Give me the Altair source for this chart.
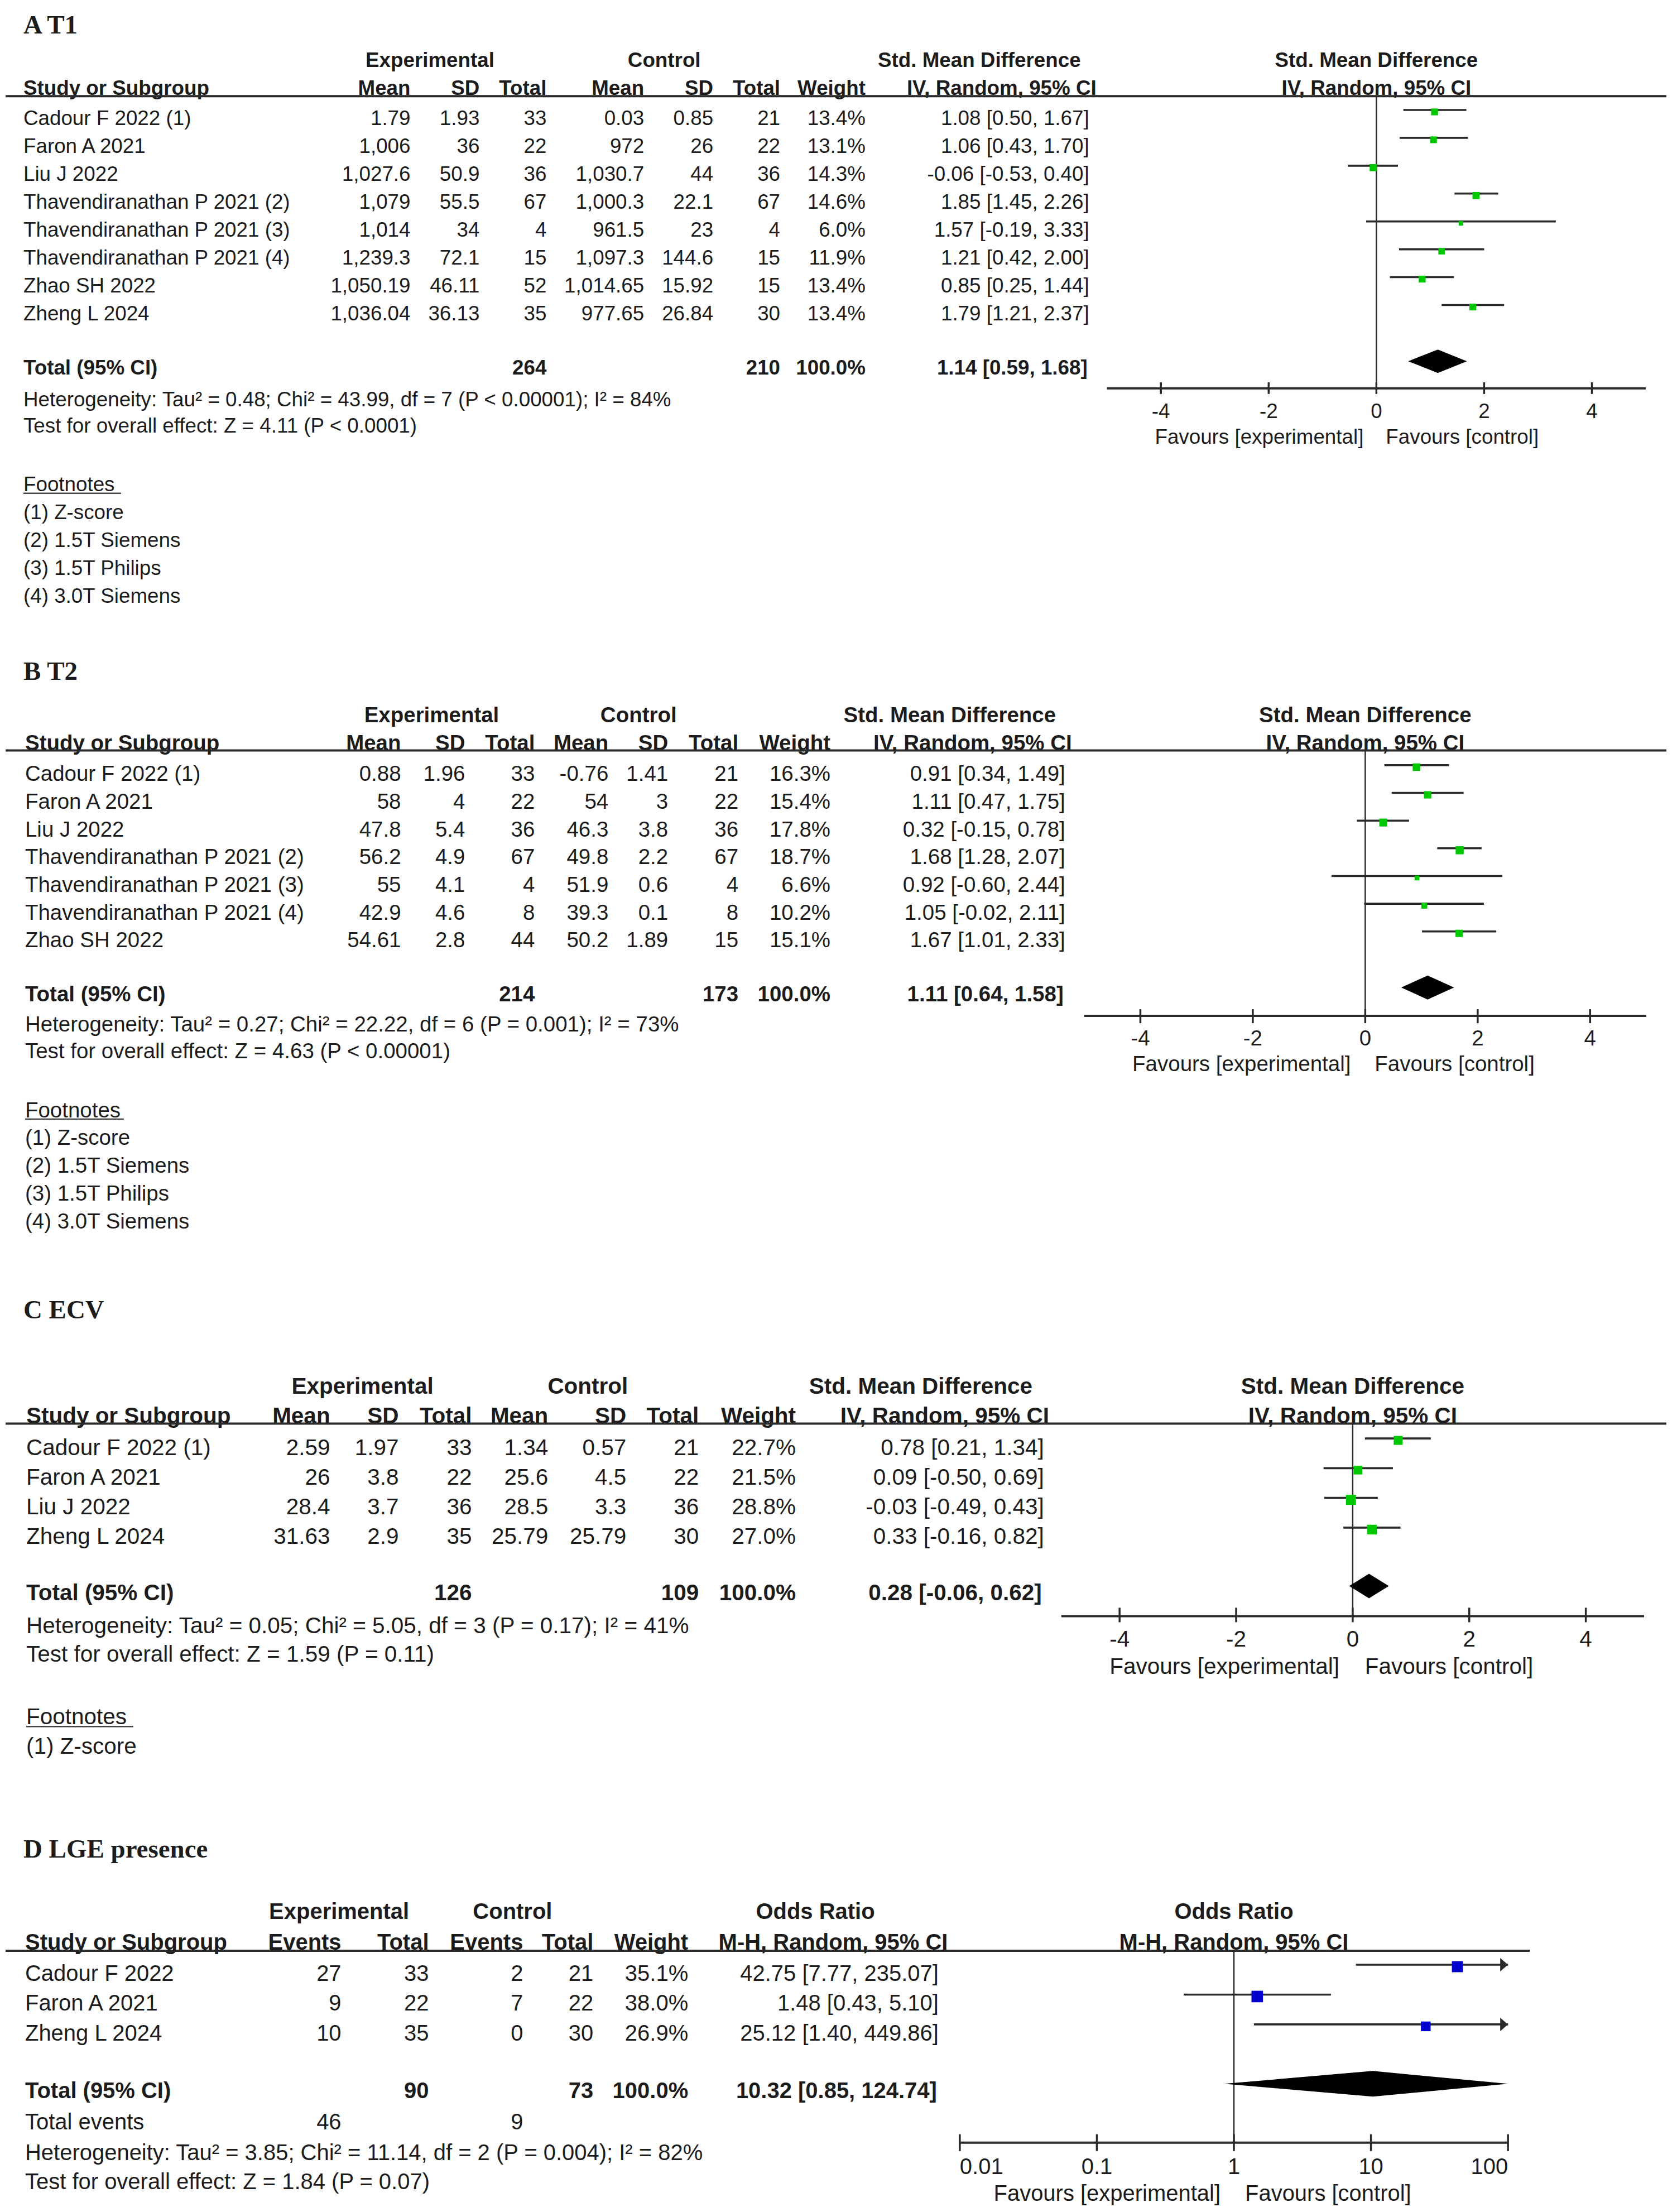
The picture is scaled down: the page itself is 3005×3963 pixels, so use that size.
import altair as alt
import pandas as pd

# ======================================================================
# DATA
# ======================================================================
# ---- Panel A : T1 (Std. Mean Difference, IV, Random) ----
A_study = ["Cadour F 2022 (1)", "Faron A 2021", "Liu J 2022",
           "Thavendiranathan P 2021 (2)", "Thavendiranathan P 2021 (3)",
           "Thavendiranathan P 2021 (4)", "Zhao SH 2022", "Zheng L 2024"]
A_exp_mean = ["1.79", "1,006", "1,027.6", "1,079", "1,014", "1,239.3", "1,050.19", "1,036.04"]
A_exp_sd = ["1.93", "36", "50.9", "55.5", "34", "72.1", "46.11", "36.13"]
A_exp_n = [33, 22, 36, 67, 4, 15, 52, 35]
A_ctl_mean = ["0.03", "972", "1,030.7", "1,000.3", "961.5", "1,097.3", "1,014.65", "977.65"]
A_ctl_sd = ["0.85", "26", "44", "22.1", "23", "144.6", "15.92", "26.84"]
A_ctl_n = [21, 22, 36, 67, 4, 15, 15, 30]
A_weight = [13.4, 13.1, 14.3, 14.6, 6.0, 11.9, 13.4, 13.4]
A_est = [1.08, 1.06, -0.06, 1.85, 1.57, 1.21, 0.85, 1.79]
A_lo = [0.50, 0.43, -0.53, 1.45, -0.19, 0.42, 0.25, 1.21]
A_hi = [1.67, 1.70, 0.40, 2.26, 3.33, 2.00, 1.44, 2.37]
A_total = [264, 210, 1.14, 0.59, 1.68]
A_het = "Heterogeneity: Tau² = 0.48; Chi² = 43.99, df = 7 (P < 0.00001); I² = 84%"
A_test = "Test for overall effect: Z = 4.11 (P < 0.0001)"
A_notes = ["Footnotes", "(1) Z-score", "(2) 1.5T Siemens", "(3) 1.5T Philips", "(4) 3.0T Siemens"]

# ---- Panel B : T2 ----
B_study = ["Cadour F 2022 (1)", "Faron A 2021", "Liu J 2022",
           "Thavendiranathan P 2021 (2)", "Thavendiranathan P 2021 (3)",
           "Thavendiranathan P 2021 (4)", "Zhao SH 2022"]
B_exp_mean = ["0.88", "58", "47.8", "56.2", "55", "42.9", "54.61"]
B_exp_sd = ["1.96", "4", "5.4", "4.9", "4.1", "4.6", "2.8"]
B_exp_n = [33, 22, 36, 67, 4, 8, 44]
B_ctl_mean = ["-0.76", "54", "46.3", "49.8", "51.9", "39.3", "50.2"]
B_ctl_sd = ["1.41", "3", "3.8", "2.2", "0.6", "0.1", "1.89"]
B_ctl_n = [21, 22, 36, 67, 4, 8, 15]
B_weight = [16.3, 15.4, 17.8, 18.7, 6.6, 10.2, 15.1]
B_est = [0.91, 1.11, 0.32, 1.68, 0.92, 1.05, 1.67]
B_lo = [0.34, 0.47, -0.15, 1.28, -0.60, -0.02, 1.01]
B_hi = [1.49, 1.75, 0.78, 2.07, 2.44, 2.11, 2.33]
B_total = [214, 173, 1.11, 0.64, 1.58]
B_het = "Heterogeneity: Tau² = 0.27; Chi² = 22.22, df = 6 (P = 0.001); I² = 73%"
B_test = "Test for overall effect: Z = 4.63 (P < 0.00001)"
B_notes = ["Footnotes", "(1) Z-score", "(2) 1.5T Siemens", "(3) 1.5T Philips", "(4) 3.0T Siemens"]

# ---- Panel C : ECV ----
C_study = ["Cadour F 2022 (1)", "Faron A 2021", "Liu J 2022", "Zheng L 2024"]
C_exp_mean = ["2.59", "26", "28.4", "31.63"]
C_exp_sd = ["1.97", "3.8", "3.7", "2.9"]
C_exp_n = [33, 22, 36, 35]
C_ctl_mean = ["1.34", "25.6", "28.5", "25.79"]
C_ctl_sd = ["0.57", "4.5", "3.3", "25.79"]
C_ctl_n = [21, 22, 36, 30]
C_weight = [22.7, 21.5, 28.8, 27.0]
C_est = [0.78, 0.09, -0.03, 0.33]
C_lo = [0.21, -0.50, -0.49, -0.16]
C_hi = [1.34, 0.69, 0.43, 0.82]
C_total = [126, 109, 0.28, -0.06, 0.62]
C_het = "Heterogeneity: Tau² = 0.05; Chi² = 5.05, df = 3 (P = 0.17); I² = 41%"
C_test = "Test for overall effect: Z = 1.59 (P = 0.11)"
C_notes = ["Footnotes", "(1) Z-score"]

# ---- Panel D : LGE presence (Odds Ratio, M-H, Random) ----
D_study = ["Cadour F 2022", "Faron A 2021", "Zheng L 2024"]
D_exp_ev = [27, 9, 10]
D_exp_n = [33, 22, 35]
D_ctl_ev = [2, 7, 0]
D_ctl_n = [21, 22, 30]
D_weight = [35.1, 38.0, 26.9]
D_est = [42.75, 1.48, 25.12]
D_lo = [7.77, 0.43, 1.40]
D_hi = [235.07, 5.10, 449.86]
D_total = [90, 73, 10.32, 0.85, 124.74]
D_events = [46, 9]
D_het = "Heterogeneity: Tau² = 3.85; Chi² = 11.14, df = 2 (P = 0.004); I² = 82%"
D_test = "Test for overall effect: Z = 1.84 (P = 0.07)"

SMD_ticks = [-4, -2, 0, 2, 4]
SMD_tick_labels = ["-4", "-2", "0", "2", "4"]
OR_ticks = [0.01, 0.1, 1, 10, 100]
OR_tick_labels = ["0.01", "0.1", "1", "10", "100"]

# ======================================================================
# STYLE / LAYOUT
# ======================================================================
SANS = "Liberation Sans"
SERIF = "Liberation Serif"
INK = "#1c1c1c"
LINE = "#2a2a2a"
GREEN = "#00C800"
BLUE = "#0000CC"
W = 2989
PAGE = 8


def one(t):
    return pd.DataFrame({"t": [t]})


def smd_table(study, em, esd, en, cm, csd, cn, w, est, lo, hi):
    return pd.DataFrame({
        "row": list(range(len(study))), "study": study,
        "c1": em, "c2": esd, "c3": [str(v) for v in en],
        "c4": cm, "c5": csd, "c6": [str(v) for v in cn],
        "c7": [f"{v:.1f}%" for v in w], "weight": w,
        "c8": [f"{e:.2f} [{l:.2f}, {h:.2f}]" for e, l, h in zip(est, lo, hi)],
        "est": est, "lo": lo, "hi": hi, "hi_clip": hi,
    })


def or_table(study, ee, en, ce, cn, w, est, lo, hi, cap):
    return pd.DataFrame({
        "row": list(range(len(study))), "study": study,
        "c1": [str(v) for v in ee], "c2": [str(v) for v in en],
        "c3": [str(v) for v in ce], "c4": [str(v) for v in cn],
        "c5": [f"{v:.1f}%" for v in w], "weight": w,
        "c6": [f"{e:.2f} [{l:.2f}, {h:.2f}]" for e, l, h in zip(est, lo, hi)],
        "est": est, "lo": lo, "hi": hi, "hi_clip": [min(h, cap) for h in hi],
    })


def build(P, df, tot):
    top = P["top"]
    fs = P["fs"]

    def lx(v):
        return v - PAGE

    def ly(v):
        return v - top

    ysc = alt.Scale(domain=[0, 1], range=[ly(P["first"]), ly(P["first"]) + P["step"]],
                    nice=False, zero=False)
    if P["log"]:
        xsc = alt.Scale(type="log", domain=P["xdomain"],
                        range=[lx(P["xr"][0]), lx(P["xr"][1])], nice=False)
    else:
        xsc = alt.Scale(type="linear", domain=P["xdomain"],
                        range=[lx(P["xr"][0]), lx(P["xr"][1])], nice=False, zero=False)
    Yrow = alt.Y("row:Q", scale=ysc, axis=None)
    layers = []

    def text(t, x, y, align="left", bold=False, font=SANS, size=None, dy=2):
        layers.append(alt.Chart(one(t)).mark_text(
            align=align, baseline="middle", font=font, fontSize=size or fs,
            fontWeight="bold" if bold else "normal", color=INK, dy=dy
        ).encode(x=alt.value(lx(x)), y=alt.value(ly(y)), text="t:N"))

    def ptext(t, xv, y, align="center", bold=False, dx=0):
        layers.append(alt.Chart(one(t)).mark_text(
            align=align, baseline="middle", font=SANS, fontSize=fs,
            fontWeight="bold" if bold else "normal", color=INK, dy=2, dx=dx
        ).encode(x=alt.XDatum(xv, scale=xsc, axis=None), y=alt.value(ly(y)), text="t:N"))

    # title
    text(P["title"], 40, P["title_y"], bold=True, font=SERIF, size=47, dy=1.5)
    # header rows
    for t, x, a in P["hdr1"]:
        text(t, x, P["h1"], align=a, bold=True)
    for t, x, a in P["hdr2"]:
        text(t, x, P["h2"], align=a, bold=True)
    ptext(P["ph"][0], P["zero"], P["h1"], bold=True)
    ptext(P["ph"][1], P["zero"], P["h2"], bold=True)
    # header line
    layers.append(alt.Chart(one("l")).mark_rule(strokeWidth=4, color=LINE).encode(
        x=alt.value(lx(8)), x2=alt.value(lx(P["line_right"])), y=alt.value(ly(P["line"]))))

    # study rows
    layers.append(alt.Chart(df).mark_text(
        align="left", baseline="middle", font=SANS, fontSize=fs, color=INK, dy=2
    ).encode(x=alt.value(lx(P["left"])), y=Yrow, text="study:N"))
    for field, xr in P["cols"]:
        layers.append(alt.Chart(df).mark_text(
            align="right", baseline="middle", font=SANS, fontSize=fs, color=INK, dy=2
        ).encode(x=alt.value(lx(xr)), y=Yrow, text=f"{field}:N"))

    # total row
    text("Total (95% CI)", P["left"], P["total_y"], bold=True)
    tot_txt = [str(tot[0]), str(tot[1]), "100.0%", f"{tot[2]:.2f} [{tot[3]:.2f}, {tot[4]:.2f}]"]
    for t, x in zip(tot_txt, P["tot_x"]):
        text(t, x, P["total_y"], align="right", bold=True)

    # extra lines (total events, heterogeneity, overall effect)
    for t, y in P["extra"]:
        text(t, P["left"], y)
    for t, x, y in P.get("events", []):
        text(t, x, y, align="right")

    # footnotes
    if P.get("notes"):
        for t, y in zip(P["notes"], P["foot"]):
            text(t, P["left"], y)
        x0, x1, yu = P["foot_ul"]
        layers.append(alt.Chart(one("u")).mark_rule(strokeWidth=2.5, color="#444").encode(
            x=alt.value(lx(x0)), x2=alt.value(lx(x1)), y=alt.value(ly(yu))))

    # ---------------- forest plot ----------------
    layers.append(alt.Chart(one("z")).mark_rule(strokeWidth=2.5, color=LINE).encode(
        x=alt.XDatum(P["zero"], scale=xsc, axis=None),
        y=alt.value(ly(P["line"])), y2=alt.value(ly(P["axis_y"]))))
    line_off = P["moff"] - 3.5
    layers.append(alt.Chart(df).mark_rule(strokeWidth=3.6, color=LINE, yOffset=line_off).encode(
        x=alt.X("lo:Q", scale=xsc, axis=None), x2="hi_clip:Q", y=Yrow))
    if P["log"]:
        layers.append(alt.Chart(df).transform_filter("datum.hi > datum.hi_clip").mark_point(
            shape="M-1.17,-1L0,0L-1.17,1Z", filled=True, size=576, color=LINE, opacity=1,
            yOffset=line_off
        ).encode(x=alt.X("hi_clip:Q", scale=xsc, axis=None), y=Yrow))
    layers.append(alt.Chart(df).mark_square(color=P["color"], opacity=1, yOffset=P["moff"]).encode(
        x=alt.X("est:Q", scale=xsc, axis=None), y=Yrow,
        size=alt.Size("weight:Q", scale=alt.Scale(domain=[0, 100], range=[0, P["k"] ** 2 * 100]),
                      legend=None)))
    r = (P["total_y"] + P["moff"] - P["first"]) / P["step"]
    hh = P["dh"] / P["step"]
    hi_c = min(tot[4], P["xdomain"][1])
    dia = pd.DataFrame({"dx": [tot[3], tot[2], hi_c],
                        "ytop": [r, r - hh, r], "ybot": [r, r + hh, r]})
    layers.append(alt.Chart(dia).mark_area(color="black", orient="vertical", opacity=1).encode(
        x=alt.X("dx:Q", scale=xsc, axis=None),
        y=alt.Y("ytop:Q", scale=ysc, axis=None), y2="ybot:Q"))
    # axis
    layers.append(alt.Chart(one("a")).mark_rule(strokeWidth=4, color=LINE).encode(
        x=alt.XDatum(P["xdomain"][0], scale=xsc, axis=None), x2=alt.datum(P["xdomain"][1]),
        y=alt.value(ly(P["axis_y"]))))
    tk = pd.DataFrame({"t": P["ticks"], "lab": P["tick_labels"], "al": P["tick_align"]})
    up, dn = P["tick_len"]
    layers.append(alt.Chart(tk).mark_rule(strokeWidth=3.5, color=LINE).encode(
        x=alt.X("t:Q", scale=xsc, axis=None),
        y=alt.value(ly(P["axis_y"] - up)), y2=alt.value(ly(P["axis_y"] + dn))))
    for a in ["left", "center", "right"]:
        sub = tk[tk["al"] == a]
        if len(sub):
            layers.append(alt.Chart(sub).mark_text(
                align=a, baseline="middle", font=SANS, fontSize=fs, color=INK, dy=2
            ).encode(x=alt.X("t:Q", scale=xsc, axis=None), y=alt.value(ly(P["tick_y"])),
                     text="lab:N"))
    gl, gr = P["fav_gap"]
    ptext("Favours [experimental]", P["zero"], P["fav_y"], align="right", dx=-gl)
    ptext("Favours [control]", P["zero"], P["fav_y"], align="left", dx=gr)

    return alt.layer(*layers).properties(width=W, height=P["height"])


smd_hdr = ["Mean", "SD", "Total", "Mean", "SD", "Total", "Weight"]

PA = dict(
    top=8, height=1142, fs=36.8, title="A T1", title_y=43.5, left=40,
    h1=106, h2=156, line=171, line_right=2986, first=210, step=49.96, total_y=657,
    cols=list(zip(["c1", "c2", "c3", "c4", "c5", "c6", "c7", "c8"],
                  [734, 858, 978, 1153, 1277, 1397, 1550, 1951])),
    hdr1=[("Experimental", 769, "center"), ("Control", 1189, "center"),
          ("Std. Mean Difference", 1754, "center")],
    hdr2=[("Study or Subgroup", 40, "left")]
    + [(t, x, "right") for t, x in zip(smd_hdr, [734, 858, 978, 1153, 1277, 1397, 1550])]
    + [("IV, Random, 95% CI", 1794, "center")],
    ph=("Std. Mean Difference", "IV, Random, 95% CI"),
    tot_x=[978, 1397, 1550, 1948],
    extra=[(A_het, 714), (A_test, 761)],
    notes=A_notes, foot=[866, 916, 966, 1016, 1066], foot_ul=(40, 215, 883),
    log=False, xdomain=[-5, 5], xr=(1983, 2949), zero=0,
    axis_y=695, tick_y=735, fav_y=781, fav_gap=(23, 17), tick_len=(11, 10),
    ticks=SMD_ticks, tick_labels=SMD_tick_labels, tick_align=["center"] * 5,
    color=GREEN, k=3.35, moff=-10.7, dh=21,
)

PB = dict(
    top=1150, height=1150, fs=38.5, title="B T2", title_y=1202, left=43,
    h1=1280, h2=1330, line=1344, line_right=2986, first=1385, step=49.67, total_y=1780,
    cols=list(zip(["c1", "c2", "c3", "c4", "c5", "c6", "c7", "c8"],
                  [717, 832, 957, 1089, 1196, 1322, 1487, 1908])),
    hdr1=[("Experimental", 772, "center"), ("Control", 1143, "center"),
          ("Std. Mean Difference", 1701, "center")],
    hdr2=[("Study or Subgroup", 43, "left")]
    + [(t, x, "right") for t, x in zip(smd_hdr, [717, 832, 957, 1089, 1196, 1322, 1487])]
    + [("IV, Random, 95% CI", 1742, "center")],
    ph=("Std. Mean Difference", "IV, Random, 95% CI"),
    tot_x=[957, 1322, 1487, 1905],
    extra=[(B_het, 1834), (B_test, 1882)],
    notes=B_notes, foot=[1988, 2037, 2087, 2137, 2187], foot_ul=(43, 220, 2005),
    log=False, xdomain=[-5, 5], xr=(1942, 2950), zero=0,
    axis_y=1820, tick_y=1859, fav_y=1905, fav_gap=(26, 17), tick_len=(12, 13),
    ticks=SMD_ticks, tick_labels=SMD_tick_labels, tick_align=["center"] * 5,
    color=GREEN, k=4.2, moff=-11, dh=21.5,
)

PC = dict(
    top=2300, height=950, fs=40.5, title="C ECV", title_y=2347, left=45,
    h1=2483, h2=2536, line=2551, line_right=2986, first=2593, step=53.3, total_y=2854,
    cols=list(zip(["c1", "c2", "c3", "c4", "c5", "c6", "c7", "c8"],
                  [590, 713, 844, 981, 1121, 1251, 1425, 1870])),
    hdr1=[("Experimental", 648, "center"), ("Control", 1052, "center"),
          ("Std. Mean Difference", 1649, "center")],
    hdr2=[("Study or Subgroup", 45, "left")]
    + [(t, x, "right") for t, x in zip(smd_hdr, [590, 713, 844, 981, 1121, 1251, 1425])]
    + [("IV, Random, 95% CI", 1692, "center")],
    ph=("Std. Mean Difference", "IV, Random, 95% CI"),
    tot_x=[844, 1251, 1425, 1866],
    extra=[(C_het, 2913), (C_test, 2964)],
    notes=C_notes, foot=[3076, 3129], foot_ul=(45, 237, 3094),
    log=False, xdomain=[-5, 5], xr=(1901, 2946), zero=0,
    axis_y=2896, tick_y=2937, fav_y=2986, fav_gap=(24, 22), tick_len=(15, 11),
    ticks=SMD_ticks, tick_labels=SMD_tick_labels, tick_align=["center"] * 5,
    color=GREEN, k=4.45, moff=-12, dh=22,
)

PD = dict(
    top=3250, height=705, fs=40, title="D LGE presence", title_y=3313, left=43,
    h1=3425, h2=3480, line=3496, line_right=2741, first=3536, step=53.5, total_y=3746,
    cols=list(zip(["c1", "c2", "c3", "c4", "c5", "c6"],
                  [610, 767, 936, 1062, 1232, 1681])),
    hdr1=[("Experimental", 606, "center"), ("Control", 917, "center"),
          ("Odds Ratio", 1460, "center")],
    hdr2=[("Study or Subgroup", 43, "left")]
    + [(t, x, "right") for t, x in zip(["Events", "Total", "Events", "Total", "Weight"],
                                       [610, 767, 936, 1062, 1232])]
    + [("M-H, Random, 95% CI", 1492, "center")],
    ph=("Odds Ratio", "M-H, Random, 95% CI"),
    tot_x=[767, 1062, 1232, 1678],
    extra=[("Total events", 3802), (D_het, 3857), (D_test, 3909)],
    events=[(str(D_events[0]), 610, 3802), (str(D_events[1]), 936, 3802)],
    notes=None,
    log=True, xdomain=[0.01, 100], xr=(1719, 2702), zero=1,
    axis_y=3840, tick_y=3882, fav_y=3930, fav_gap=(24, 20), tick_len=(15, 15),
    ticks=OR_ticks, tick_labels=OR_tick_labels,
    tick_align=["left", "center", "center", "center", "right"],
    color=BLUE, k=4.3, moff=-11.5, dh=23,
)

dfA = smd_table(A_study, A_exp_mean, A_exp_sd, A_exp_n, A_ctl_mean, A_ctl_sd, A_ctl_n,
                A_weight, A_est, A_lo, A_hi)
dfB = smd_table(B_study, B_exp_mean, B_exp_sd, B_exp_n, B_ctl_mean, B_ctl_sd, B_ctl_n,
                B_weight, B_est, B_lo, B_hi)
dfC = smd_table(C_study, C_exp_mean, C_exp_sd, C_exp_n, C_ctl_mean, C_ctl_sd, C_ctl_n,
                C_weight, C_est, C_lo, C_hi)
dfD = or_table(D_study, D_exp_ev, D_exp_n, D_ctl_ev, D_ctl_n, D_weight, D_est, D_lo, D_hi,
               PD["xdomain"][1])

pA = build(PA, dfA, A_total)
pB = build(PB, dfB, B_total)
pC = build(PC, dfC, C_total)
pD = build(PD, dfD, D_total)

chart = alt.vconcat(pA, pB, pC, pD, spacing=0, bounds="flush", padding=0,
                    background="white").configure_view(strokeWidth=0)

chart.save("out.html", embed_options={"renderer": "svg", "actions": False})
